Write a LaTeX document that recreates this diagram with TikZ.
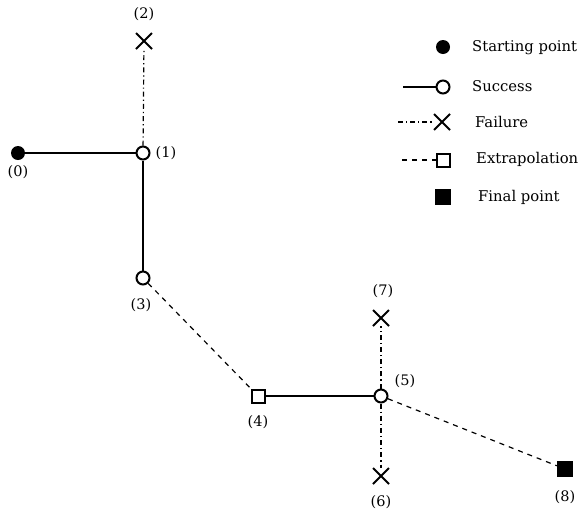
\documentclass[tikz,border=0pt]{standalone}
\usepackage{fontspec}
\setmainfont{DejaVu Serif}
\usetikzlibrary{shapes.misc,positioning}

\begin{document}
\begin{tikzpicture}[
  x=1pt, y=-1pt,
  start/.style={circle, fill=black, minimum size=14pt, inner sep=0pt},
  succ/.style={circle, draw, line width=2pt, fill=white, minimum size=13pt, inner sep=0pt},
  fail/.style={cross out, draw, line width=2pt, minimum size=14pt, inner sep=0pt},
  extra/.style={rectangle, draw, line width=2pt, fill=white, minimum size=13pt, inner sep=0pt},
  final/.style={rectangle, fill=black, minimum size=16pt, inner sep=0pt},
  okln/.style={line width=1.2pt},
  failln/.style={line width=1.2pt, dash pattern=on 5pt off 3pt on 1.2pt off 3pt},
  extln/.style={line width=1.2pt, dash pattern=on 5pt off 5pt},
  num/.style={font=\fontsize{14.5}{17}\selectfont, inner sep=0pt},
  key/.style={font=\fontsize{14.8}{17}\selectfont, anchor=west, inner sep=0pt},
]
\useasboundingbox (0,0) rectangle (581,512);
% points of the search
\node[start] (p0) at (18,153) {};
\node[succ] (p1) at (143,153) {};
\node[fail] (p2) at (144,41) {};
\node[succ] (p3) at (143,278) {};
\node[extra] (p4) at (258,396) {};
\node[succ] (p5) at (381,396) {};
\node[fail] (p6) at (381,476) {};
\node[fail] (p7) at (381,318) {};
\node[final] (p8) at (565,469) {};
% moves
\draw[okln] (p0) -- (p1);
\draw[failln] (p1) -- (p2);
\draw[okln] (p1) -- (p3);
\draw[extln] (p3) -- (p4);
\draw[okln] (p4) -- (p5);
\draw[failln] (p5) -- (p7);
\draw[failln] (p5) -- (p6);
\draw[extln] (p5) -- (p8);
% numbers
\node[num] (n0) at (18,172) {(0)};
\node[num] (n1) at (166,153) {(1)};
\node[num] (n2) at (144,14) {(2)};
\node[num] (n3) at (141,305) {(3)};
\node[num] (n4) at (258,422) {(4)};
\node[num] (n5) at (405,381) {(5)};
\node[num] (n6) at (381,502) {(6)};
\node[num] (n7) at (383,291) {(7)};
\node[num] (n8) at (565,497) {(8)};
% legend
\node[start] (kstart) at (443,47) {};
\node[key] (tstart) at (472,48) {Starting point};
\coordinate (ksuccA) at (403,87);
\node[succ] (ksucc) at (443,87) {};
\draw[okln] (ksuccA) -- (ksucc);
\node[key] (tsucc) at (472,86) {Success};
\coordinate (kfailA) at (398,122);
\node[fail] (kfail) at (442,122) {};
\draw[failln] (kfailA) -- (kfail);
\node[key] (tfail) at (475,122) {Failure};
\coordinate (kextA) at (402,160);
\node[extra] (kext) at (443,160) {};
\draw[extln] (kextA) -- (kext);
\node[key] (text) at (476,159) {Extrapolation};
\node[final] (kfinal) at (443,197) {};
\node[key] (tfinal) at (478,197) {Final point};
\end{tikzpicture}
\end{document}
